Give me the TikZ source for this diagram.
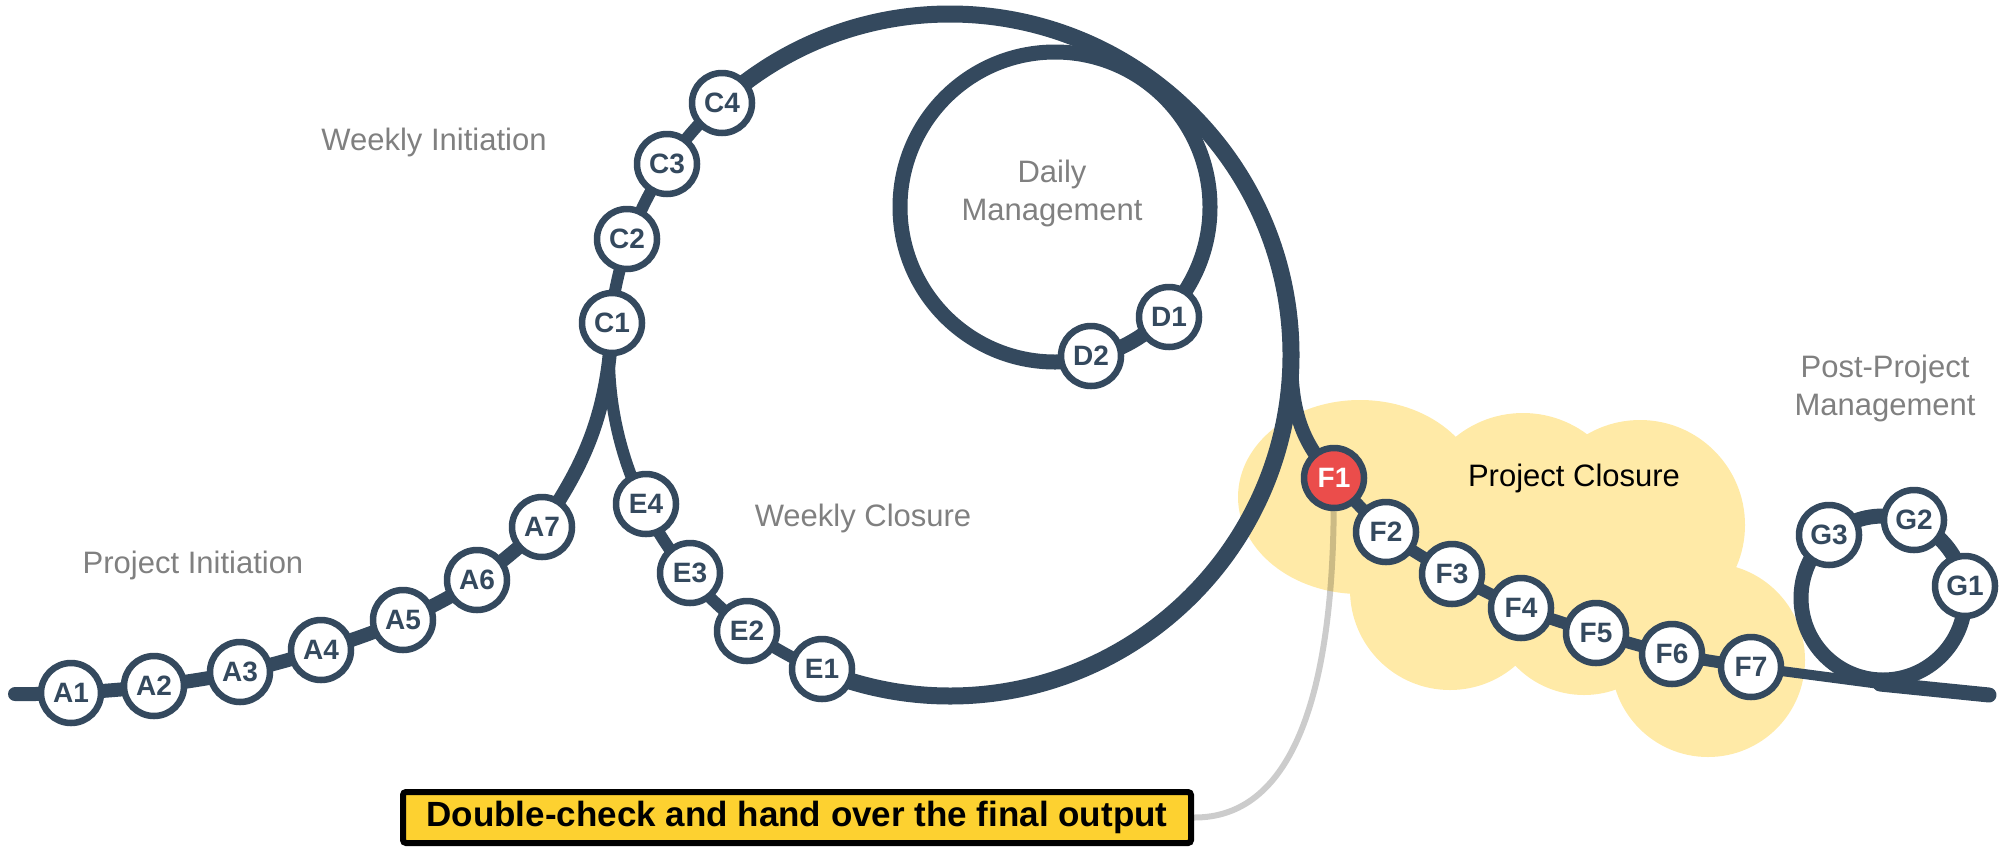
\documentclass[tikz,border=0pt]{standalone}
\usepackage{fontspec}
\setmainfont{Liberation Sans}
\usetikzlibrary{backgrounds}

\definecolor{asphalt}{HTML}{34495E}
\definecolor{alarm}{HTML}{EB4D4B}
\definecolor{lemon}{HTML}{FFEAA7}
\definecolor{gold}{HTML}{FDD130}
\definecolor{caption}{HTML}{808080}

\begin{document}
\begin{tikzpicture}[
    x=1pt, y=-1pt,
    milestone/.style={circle, draw=asphalt, line width=6.5pt, fill=white, minimum size=60pt, inner sep=0pt, text=asphalt, font=\fontsize{28}{28}\selectfont\bfseries},
    phase/.style={text=caption, align=center, font=\fontsize{31}{38}\selectfont},
    banner/.style={draw=black, line width=6pt, fill=gold, rounded corners=3pt, minimum width=788pt, minimum height=51pt, inner sep=0pt, font=\fontsize{35}{35}\selectfont\bfseries},
    rail/.style={draw=asphalt, line width=14pt, line cap=round},
    ring/.style={rail, line width=17pt},
    link/.style={draw=black, draw opacity=0.2, line width=6pt}
]
\useasboundingbox (0,0) rectangle (2012,847);

\coordinate (start) at (15,694);
\coordinate (weekly) at (950,355);
\coordinate (daily) at (1055,207);
\coordinate (split) at (1291,355);
\coordinate (post) at (1883,598);
\coordinate (joint) at (1880,684);
\coordinate (tail) at (1989,695);

\node[milestone] (a1) at (71,693) {A1};
\node[milestone] (a2) at (154,686) {A2};
\node[milestone] (a3) at (240,672) {A3};
\node[milestone] (a4) at (321,650) {A4};
\node[milestone] (a5) at (403,620) {A5};
\node[milestone] (a6) at (477,580) {A6};
\node[milestone] (a7) at (542,527) {A7};

\node[milestone] (c1) at (612,323) {C1};
\node[milestone] (c2) at (627,239) {C2};
\node[milestone] (c3) at (667,164) {C3};
\node[milestone] (c4) at (722,103) {C4};

\node[milestone] (d1) at (1169,317) {D1};
\node[milestone] (d2) at (1091,356) {D2};

\node[milestone] (e1) at (822,669) {E1};
\node[milestone] (e2) at (747,631) {E2};
\node[milestone] (e3) at (690,573) {E3};
\node[milestone] (e4) at (646,504) {E4};

\node[milestone, fill=alarm, text=white] (f1) at (1334,478) {F1};
\node[milestone] (f2) at (1386,532) {F2};
\node[milestone] (f3) at (1452,574) {F3};
\node[milestone] (f4) at (1521,608) {F4};
\node[milestone] (f5) at (1596,633) {F5};
\node[milestone] (f6) at (1672,654) {F6};
\node[milestone] (f7) at (1751,667) {F7};

\node[milestone] (g1) at (1965,586) {G1};
\node[milestone] (g2) at (1914,520) {G2};
\node[milestone] (g3) at (1829,535) {G3};

\node[phase, anchor=base] (weeklyinit) at (434,150) {Weekly Initiation};
\node[phase, anchor=base] (projectinit) at (193,573) {Project Initiation};
\node[phase, anchor=base] (weeklyclose) at (863,526) {Weekly Closure};
\node[phase] (dailymgmt) at (1052,193) {Daily\\Management};
\node[phase, anchor=base, text=black] (projectclose) at (1574,486) {Project Closure};
\node[phase] (postmgmt) at (1885,388) {Post-Project\\Management};

\node[banner] (handover) at (797,817.5) {Double-check and hand over the final output};

\begin{scope}[on background layer]
\fill[lemon] (1360,497) ellipse[x radius=122, y radius=97];
\fill[lemon] (1523,520) circle[radius=107];
\fill[lemon] (1640,525) circle[radius=105];
\fill[lemon] (1708,660) circle[radius=97];
\fill[lemon] (1584,600) circle[radius=95];
\fill[lemon] (1450,590) circle[radius=100];

\draw[link] (f1) .. controls (1332,700) and (1290,818) .. (handover.east);

\draw[rail] plot[smooth, tension=0.6] coordinates {(start) (a1.center) (a2.center) (a3.center) (a4.center) (a5.center) (a6.center) (a7.center)};
\draw[rail] (a7.center) .. controls (580,470) and (608,420) .. (c1.center);
\draw[ring] (weekly) ++(228:341) arc[start angle=228, end angle=472, radius=341];
\draw[rail, line width=12pt] (weekly) ++(112:341) arc[start angle=112, end angle=228, radius=341];
\draw[ring, line width=15pt] (daily) circle[radius=155];
\draw[rail] (split) .. controls (1291,420) and (1306,446) .. (f1.center);
\draw[rail, line width=12pt] plot[smooth, tension=0.5] coordinates {(f1.center) (f2.center) (f3.center) (f4.center) (f5.center) (f6.center) (f7.center)};
\draw[rail, line width=10pt] (f7.center) -- (joint);
\draw[rail, line width=15pt] (joint) -- (tail);
\draw[ring, line width=15pt] (post) circle[radius=82];
\end{scope}

\end{tikzpicture}
\end{document}
